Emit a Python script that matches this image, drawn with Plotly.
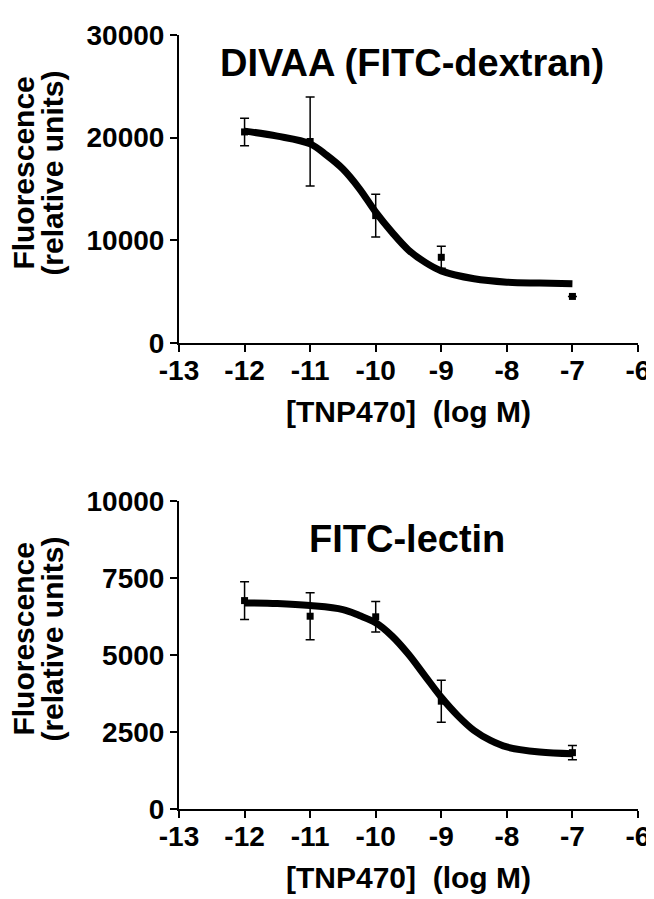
import plotly.graph_objects as go

# ---- data ----
log_conc = [-12, -11, -10, -9, -7]

# Top panel: DIVAA (FITC-dextran)
dextran_mean = [20560, 19630, 12410, 8350, 4540]
dextran_sem = [1340, 4340, 2080, 1070, 0]
dextran_fit_x = [-12, -11.5, -11, -10.75, -10.5, -10.25, -10, -9.75, -9.5, -9.25, -9, -8.5, -8, -7.5, -7]
dextran_fit_y = [20640, 20150, 19400, 18300, 16950, 15050, 12750, 10780, 9060, 7880, 7030, 6260, 5930, 5840, 5780]

# Bottom panel: FITC-lectin
lectin_mean = [6765, 6258, 6239, 3500, 1829]
lectin_sem = [610, 760, 495, 680, 230]
lectin_fit_x = [-12, -11.5, -11, -10.5, -10.25, -10, -9.75, -9.5, -9.25, -9, -8.75, -8.5, -8.25, -8, -7.5, -7]
lectin_fit_y = [6690, 6668, 6603, 6474, 6281, 6045, 5613, 5023, 4323, 3626, 3032, 2548, 2226, 2013, 1852, 1797]

x_ticks = [-13, -12, -11, -10, -9, -8, -7, -6]
top_yticks = [0, 10000, 20000, 30000]
bottom_yticks = [0, 2500, 5000, 7500, 10000]

titles = ["DIVAA (FITC-dextran)", "FITC-lectin"]
x_title = "[TNP470]&nbsp;&nbsp;(log M)"
y_title_lines = ["Fluorescence", "(relative units)"]

FONT = "Liberation Sans, Arial, Helvetica, sans-serif"

fig = go.Figure()

panels = [
    ("x", "y", dextran_mean, dextran_sem, dextran_fit_x, dextran_fit_y),
    ("x2", "y2", lectin_mean, lectin_sem, lectin_fit_x, lectin_fit_y),
]
for xa, ya, mean, sem, fx, fy in panels:
    fig.add_trace(go.Scatter(
        x=log_conc, y=mean, mode="markers", xaxis=xa, yaxis=ya,
        marker=dict(symbol="square", size=7, color="black"),
        error_y=dict(type="data", array=sem, visible=True, color="black",
                     thickness=1.5, width=4.5),
        showlegend=False, hoverinfo="skip",
    ))
    fig.add_trace(go.Scatter(
        x=fx, y=fy, mode="lines", xaxis=xa, yaxis=ya,
        line=dict(color="black", width=7, shape="spline", smoothing=1.0),
        showlegend=False, hoverinfo="skip",
    ))

axis_common = dict(
    showgrid=False, zeroline=False, showline=True, linecolor="black", linewidth=2,
    ticks="outside", ticklen=7, tickwidth=2, tickcolor="black",
    tickfont=dict(family=FONT, size=28, color="black", weight="bold"),
)

fig.update_layout(
    width=654, height=899,
    margin=dict(l=171, r=18, t=22, b=98),
    paper_bgcolor="white", plot_bgcolor="white",
    xaxis=dict(domain=[0, 1], range=[-13, -6], tickvals=x_ticks,
               ticktext=[str(v) for v in x_ticks], anchor="y",
               ticklabelstandoff=-6, **axis_common),
    yaxis=dict(domain=[0.602, 1.0], range=[0, 30000], tickvals=top_yticks,
               ticktext=[str(v) for v in top_yticks], anchor="x", **axis_common),
    xaxis2=dict(domain=[0, 1], range=[-13, -6], tickvals=x_ticks,
                ticktext=[str(v) for v in x_ticks], anchor="y2",
                ticklabelstandoff=-6, **axis_common),
    yaxis2=dict(domain=[0.0, 0.398], range=[0, 10000], tickvals=bottom_yticks,
                ticktext=[str(v) for v in bottom_yticks], anchor="x2", **axis_common),
)

ann = []
title_font = dict(family=FONT, size=38, color="black", weight="bold")
label_font = dict(family=FONT, size=30, color="black", weight="bold")

# panel titles
ann.append(dict(text=titles[0], xref="x", yref="y", x=-9.45, y=27300,
                showarrow=False, font=title_font, xanchor="center", yanchor="middle"))
ann.append(dict(text=titles[1], xref="x2", yref="y2", x=-9.53, y=8750,
                showarrow=False, font=title_font, xanchor="center", yanchor="middle"))

for xd, yd in [("x domain", "y domain"), ("x2 domain", "y2 domain")]:
    ann.append(dict(text=x_title, xref=xd, yref=yd, x=0.5, y=0, yshift=-68,
                    showarrow=False, font=label_font, xanchor="center", yanchor="middle"))
    ann.append(dict(text=y_title_lines[0], xref=xd, yref=yd, x=0, y=0.55,
                    xshift=-155, showarrow=False, font=label_font, textangle=-90,
                    xanchor="center", yanchor="middle"))
    ann.append(dict(text=y_title_lines[1], xref=xd, yref=yd, x=0, y=0.55,
                    xshift=-126, showarrow=False, font=label_font, textangle=-90,
                    xanchor="center", yanchor="middle"))

fig.update_layout(annotations=ann)

fig.write_html("out.html")
